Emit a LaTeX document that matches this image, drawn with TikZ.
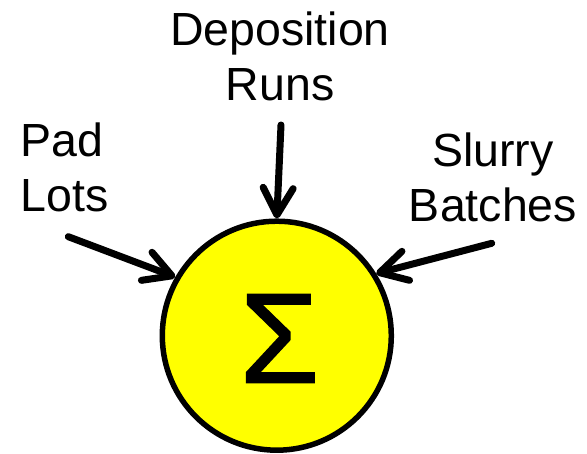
\documentclass[tikz,border=0pt]{standalone}
\usepackage{fontspec}
\setmainfont{Liberation Sans}
\newfontfamily\sigfont[FakeBold=1.2]{Liberation Sans}
\usetikzlibrary{arrows.meta}
\definecolor{sumyellow}{RGB}{255,255,0}
\begin{document}
\begin{tikzpicture}[x=1pt,y=-1pt,
  lbl/.style={inner sep=0pt, font=\fontsize{46.5pt}{55pt}\selectfont},
  feed/.style={line width=7pt, line cap=round,
    -{Straight Barb[length=27pt,width=30pt,round]}},
  sumcircle/.style={circle, draw=black, fill=sumyellow, line width=5.5pt,
    minimum size=229pt, inner sep=0pt}]
\useasboundingbox (0,0) rectangle (587,454);
\node[sumcircle] (c) at (276.8,335.7) {};
\node[inner sep=0pt, font=\sigfont\fontsize{128pt}{128pt}\selectfont] (sig) at (279.5,338.5) {Σ};
\node[lbl, align=center, anchor=north] (dep) at (280,11.5) {Deposition\\Runs};
\node[lbl, align=left, anchor=north west] (pad) at (20.5,123) {Pad\\Lots};
\node[lbl, align=center, anchor=north] (slu) at (493,133) {Slurry\\Batches};
\coordinate (ds) at (281,125);
\coordinate (ps) at (68.3,236.7);
\coordinate (ss) at (491.7,243.3);
\draw[feed] (ds) -- (c.90);
\draw[feed] (ps) -- (c.150);
\draw[feed] (ss) -- (c.32.4);
\end{tikzpicture}
\end{document}
